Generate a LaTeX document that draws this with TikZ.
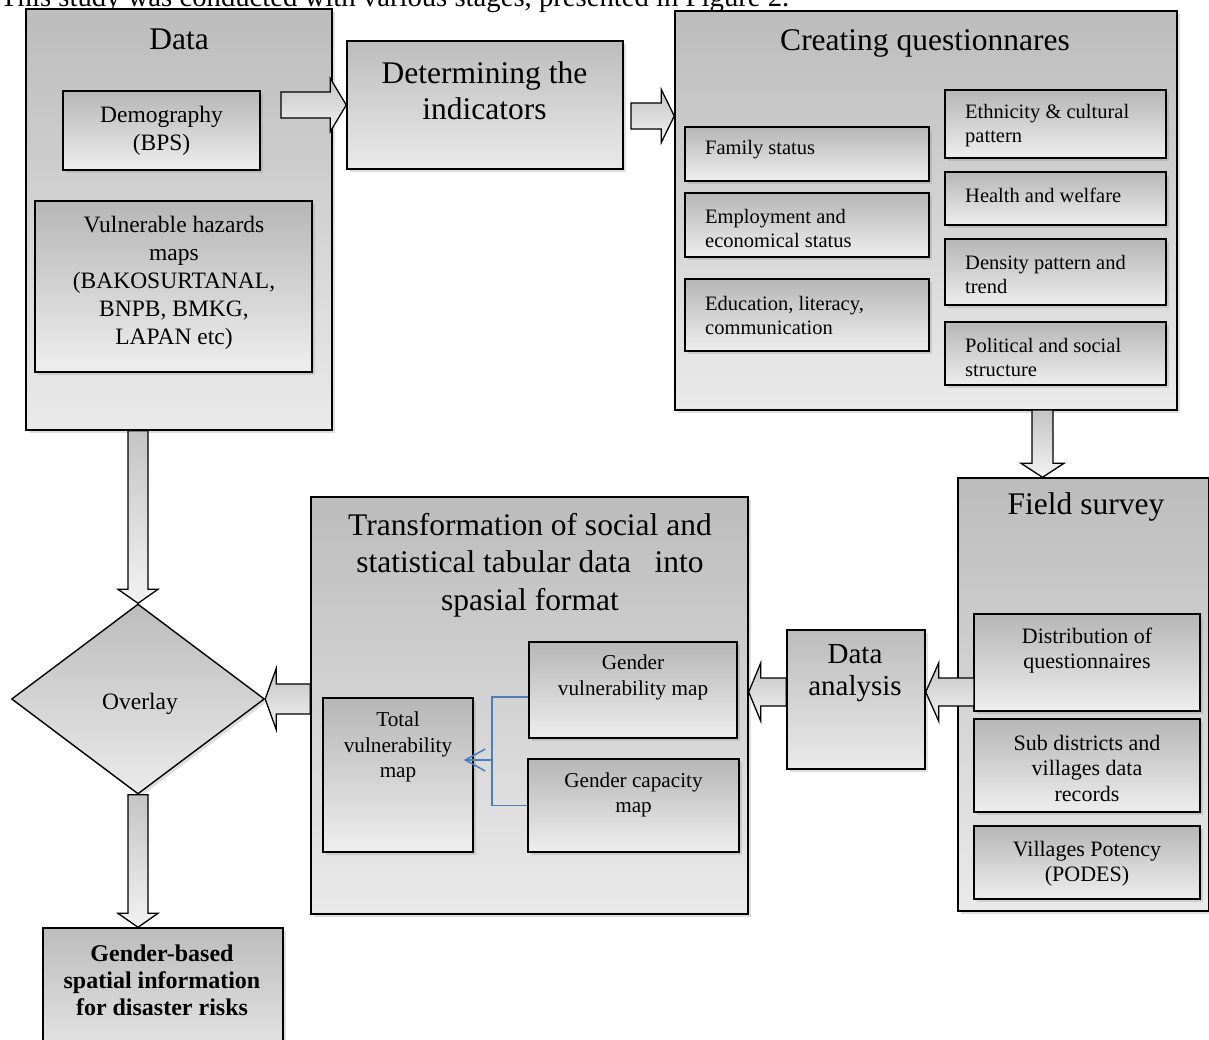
\documentclass[tikz,border=0pt]{standalone}
\usepackage{fontspec}
\setmainfont{Liberation Serif}
\usetikzlibrary{calc,shapes.geometric,shadows,arrows.meta}
\definecolor{bigTop}{RGB}{188,188,188}
\definecolor{bigBot}{RGB}{234,234,234}
\definecolor{smTop}{RGB}{182,182,182}
\definecolor{smBot}{RGB}{238,238,238}
\definecolor{arTop}{RGB}{196,196,196}
\definecolor{arBot}{RGB}{242,242,242}
\definecolor{conBlue}{RGB}{74,126,187}
\tikzset{
  shadebox/.style={draw=black, line width=1.4pt, inner sep=0pt,
    drop shadow={opacity=0.25, shadow xshift=2.5pt, shadow yshift=-3pt}},
  bigbox/.style={shadebox, top color=bigTop, bottom color=bigBot},
  smallbox/.style={shadebox, top color=smTop, bottom color=smBot},
  blockarrow/.style={draw=black, line width=1.3pt, line join=miter, top color=arTop, bottom color=arBot},
  ttl/.style={font=\fontsize{31.5}{36}\selectfont, align=center, inner sep=0pt},
  dtxt/.style={font=\fontsize{23.5}{28}\selectfont, align=center, inner sep=0pt},
  ftxt/.style={font=\fontsize{22}{25.5}\selectfont, align=center, inner sep=0pt},
  ctxt/.style={font=\fontsize{20.5}{24}\selectfont, align=left, anchor=west, inner sep=0pt},
  ttxt/.style={font=\fontsize{21.2}{25.5}\selectfont, align=center, inner sep=0pt},
  atxt/.style={font=\fontsize{29}{32}\selectfont, align=center, inner sep=0pt},
  btxt/.style={font=\bfseries\fontsize{24}{27}\selectfont, align=center, inner sep=0pt},
  blueline/.style={draw=conBlue, line width=1.5pt},
}
% block arrow: [style] {tail} {tip} {shaft half width} {head half width} {head length}
\newcommand\barrow[6][]{%
  \coordinate (bneck) at ($(#3)!#6!(#2)$);
  \path[blockarrow,#1] ($(#2)!#4!90:(#3)$) -- ($(bneck)!#4!90:(#3)$) -- ($(bneck)!#5!90:(#3)$)
    -- (#3) -- ($(bneck)!#5!-90:(#3)$) -- ($(bneck)!#4!-90:(#3)$) -- ($(#2)!#4!-90:(#3)$) -- cycle;
}
\begin{document}
\begin{tikzpicture}[x=1pt,y=-1pt]
\useasboundingbox (0,0) rectangle (1209,1039);
\fill[white] (0,0) rectangle (1209,1039);
\clip (0,0) rectangle (1209,1039);

\node[anchor=base west, inner sep=0pt, font=\fontsize{28.7}{34}\selectfont] (cap) at (0,6.5)
  {This study was conducted with various stages, presented in Figure 2.};

% containers
\node[bigbox, minimum width=306pt, minimum height=421pt] (data) at (179,219.5) {};
\node[bigbox, minimum width=276pt, minimum height=128pt] (det) at (485,105) {};
\node[bigbox, minimum width=502pt, minimum height=399pt] (cq) at (926,210.5) {};
\node[bigbox, minimum width=437pt, minimum height=417pt] (tr) at (529.5,705.5) {};
\node[bigbox, minimum width=251pt, minimum height=433pt] (fs) at (1083.5,694.5) {};
\node[bigbox, minimum width=138pt, minimum height=139pt] (da) at (856,699.5) {};
\node[bigbox, minimum width=240pt, minimum height=140pt] (gb) at (163,998) {};
\node[diamond, shadebox, top color=bigTop, bottom color=bigBot, minimum width=253pt, minimum height=190pt] (ov) at (138,699) {};

% inner boxes
\node[smallbox, minimum width=197pt, minimum height=79pt] (demo) at (161.5,130.5) {};
\node[smallbox, minimum width=277pt, minimum height=171pt] (vuln) at (173.5,286.5) {};
\node[smallbox, minimum width=244pt, minimum height=54pt] (fam) at (807,154) {};
\node[smallbox, minimum width=244pt, minimum height=64pt] (emp) at (807,225) {};
\node[smallbox, minimum width=244pt, minimum height=72pt] (edu) at (807,315) {};
\node[smallbox, minimum width=221pt, minimum height=68pt] (eth) at (1055.5,124) {};
\node[smallbox, minimum width=221pt, minimum height=53pt] (hea) at (1055.5,198.5) {};
\node[smallbox, minimum width=221pt, minimum height=66pt] (den) at (1055.5,272) {};
\node[smallbox, minimum width=221pt, minimum height=63pt] (pol) at (1055.5,353.5) {};
\node[smallbox, minimum width=226pt, minimum height=97pt] (dist) at (1087,662.5) {};
\node[smallbox, minimum width=226pt, minimum height=93pt] (sub) at (1087,765.5) {};
\node[smallbox, minimum width=226pt, minimum height=73pt] (vp) at (1087,862.5) {};
\node[smallbox, minimum width=150pt, minimum height=154pt] (tv) at (398,775) {};
\node[smallbox, minimum width=208pt, minimum height=96pt] (gv) at (633,690) {};
\node[smallbox, minimum width=211pt, minimum height=93pt] (gc) at (633.5,805.5) {};

% arrow end points
\coordinate (a1s) at (281,105);
\coordinate (a2s) at (631,116);
\coordinate (a2t) at (a2s -| cq.west);
\coordinate (a3s) at (1042.5,410);
\coordinate (a3t) at (a3s |- fs.north);
\coordinate (a4s) at (974,692);
\coordinate (a4t) at (a4s -| da.east);
\coordinate (a5s) at (a4s -| da.west);
\coordinate (a5t) at (a4s -| tr.east);
\coordinate (a6s) at (tr.west |- ov.east);
\coordinate (a7s) at (ov.north |- data.south);
\coordinate (a8t) at (ov.south |- gb.north);

\barrow{a1s}{det.west}{13pt}{26.5pt}{16pt}
\barrow{a2s}{a2t}{13pt}{26.5pt}{13pt}
\barrow{a3s}{a3t}{10.5pt}{21.5pt}{14pt}
\barrow{a4s}{a4t}{14pt}{29pt}{13pt}
\barrow{a5s}{a5t}{14pt}{29pt}{12pt}
\barrow{a6s}{ov.east}{15pt}{30.5pt}{11pt}
\barrow{a7s}{ov.north}{10pt}{20pt}{14pt}
\barrow{ov.south}{a8t}{10pt}{20pt}{14pt}

% texts
\node[ttl] (datat) at (179,39) {Data};
\node[dtxt] (demot) at (161.5,130.5) {Demography\\(BPS)};
\node[dtxt] (vulnt) at (174,283) {Vulnerable hazards\\maps\\(BAKOSURTANAL,\\BNPB, BMKG,\\LAPAN etc)};
\node[ttl] (dett) at (484.5,90.5) {Determining the\\indicators};
\node[ttl] (cqt) at (925,43) {Creating questionnares};
\node[ctxt] (famt) at (705,150) {Family status};
\node[ctxt] (empt) at (705,228) {Employment and\\economical status};
\node[ctxt] (edut) at (705,315) {Education, literacy,\\communication};
\node[ctxt] (etht) at (965,125.5) {Ethnicity \& cultural\\pattern};
\node[ctxt] (heat) at (965,195) {Health and welfare};
\node[ctxt] (dent) at (965,274) {Density pattern and\\trend};
\node[ctxt] (polt) at (965,357) {Political and social\\structure};
\node[ttl] (fst) at (1086,507) {Field survey};
\node[ftxt] (distt) at (1087,650.5) {Distribution of\\questionnaires};
\node[ftxt] (subt) at (1087,768) {Sub districts and\\villages data\\records};
\node[ftxt] (vpt) at (1087,863.5) {Villages Potency\\(PODES)};
\node[atxt] (dat) at (855,673) {Data\\analysis};
\node[ttl, font=\fontsize{31.5}{37.5}\selectfont] (trt) at (530,565) {Transformation of social and\\statistical tabular data~~~into\\spasial format};
\node[ttxt] (tvt) at (398,747) {Total\\vulnerability\\map};
\node[ttxt] (gvt) at (633,677.5) {Gender\\vulnerability map};
\node[ttxt] (gct) at (633.5,795) {Gender capacity\\map};
\node[dtxt] (ovt) at (140,704) {Overlay};
\node[btxt] (gbt) at (162,980) {Gender-based\\spatial information\\for disaster risks};

% blue connectors
\coordinate (bj) at (492,760);
\draw[blueline] ($(gv.west)+(0,7)$) -| (bj |- gc.west) -- (gc.west);
\draw[blueline, -{Straight Barb[length=20pt, width=22pt]}] (bj) -- ($(bj -| tv.east)+(-10,0)$);
\end{tikzpicture}
\end{document}
